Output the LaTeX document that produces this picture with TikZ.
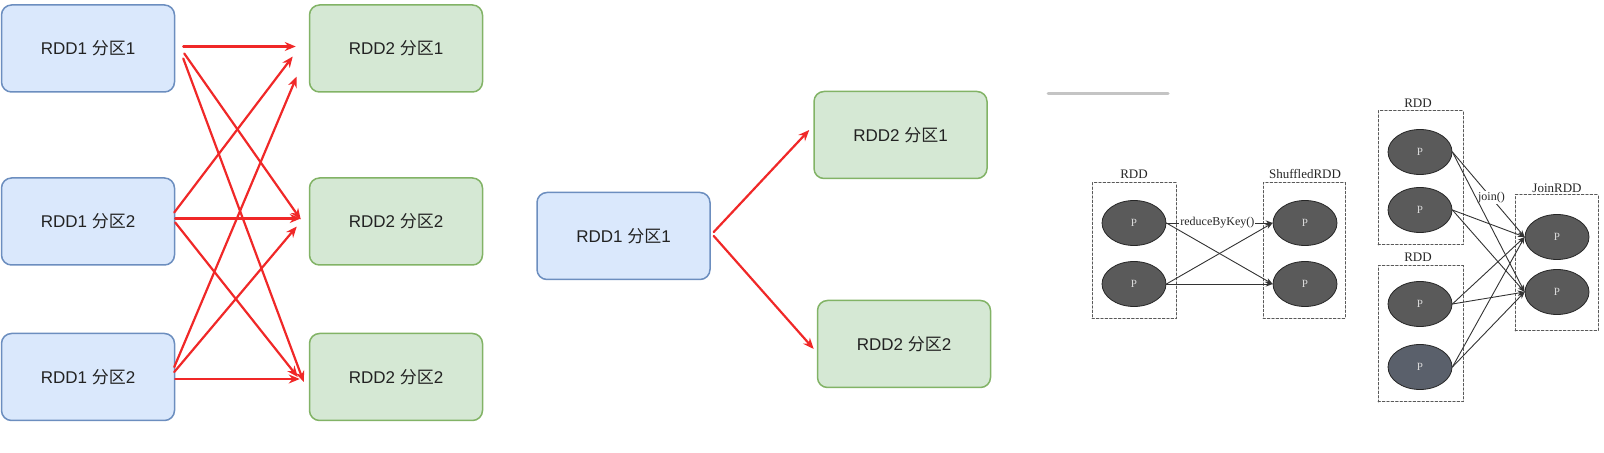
\documentclass[tikz,border=0pt]{standalone}
\usepackage{fontspec}
\setmainfont{Liberation Serif}
\newfontfamily\sansfont{Liberation Sans}
\newfontfamily\cjk{Noto Sans CJK SC}
\usetikzlibrary{arrows.meta,shapes.geometric}

\definecolor{blueback}{HTML}{DAE8FC}
\definecolor{blueline}{HTML}{6C8EBF}
\definecolor{greenback}{HTML}{D5E8D4}
\definecolor{greenline}{HTML}{82B366}
\definecolor{arrowred}{HTML}{F02828}
\definecolor{textgray}{HTML}{222222}
\definecolor{rulegray}{HTML}{C4C4C4}
\definecolor{pgray}{HTML}{5A5A5A}
\definecolor{pslate}{HTML}{5A606B}

\newcommand{\fenqu}{{\cjk 分区}}

\begin{document}
\begin{tikzpicture}
		[x=0.5pt,y=-0.5pt,line cap=round,
		%Styles
		rdd one/.style={rectangle,rounded corners=5pt,draw=blueline,fill=blueback,line width=0.75pt,minimum width=86.5pt,minimum height=43.5pt,font=\sansfont\fontsize{8.5}{10}\selectfont,text=textgray},
		rdd two/.style={rdd one,draw=greenline,fill=greenback},
		red arrow/.style={draw=arrowred,line width=1.1pt,-{Stealth[length=5.5pt,width=4.5pt]}},
		part box/.style={draw=black!65,line width=0.5pt,dash pattern=on 1.2pt off 1pt,minimum width=42pt,minimum height=68pt},
		part/.style={ellipse,draw=black!85,fill=pgray,line width=0.4pt,minimum width=32pt,minimum height=22.5pt,inner sep=0pt,font=\fontsize{5.5}{6}\selectfont,text=black!15},
		box title/.style={font=\fontsize{6.5}{8}\selectfont,text=black!85,inner sep=0pt},
		thin arrow/.style={draw=black!80,line width=0.45pt,-{Stealth[length=3.5pt,width=2.6pt]}},
		op label/.style={fill=white,inner sep=0.5pt,font=\fontsize{6}{7}\selectfont,text=black!85}
		]
		\useasboundingbox (0,0) rectangle (1604,453);
		
		%Wide dependency
		\node[rdd one] (L1) at (88,48.5) {RDD1 \fenqu1};
		\node[rdd one] (L2) at (88,221.5) {RDD1 \fenqu2};
		\node[rdd one] (L3) at (88,377) {RDD1 \fenqu2};
		\node[rdd two] (R1) at (396,48.5) {RDD2 \fenqu1};
		\node[rdd two] (R2) at (396,221.5) {RDD2 \fenqu2};
		\node[rdd two] (R3) at (396,377) {RDD2 \fenqu2};
		
		\draw[red arrow] ([shift={(8,-2)}]L1.east) -- ([shift={(-13,-2)}]R1.west);
		\draw[red arrow] ([shift={(9,5)}]L1.east) -- ([shift={(-8,-2)}]R2.west);
		\draw[red arrow] ([shift={(8,10)}]L1.east) -- ([shift={(-5,5)}]R3.west);
		\draw[red arrow] ([shift={(-1,-9)}]L2.east) -- ([shift={(-16,8)}]R1.west);
		\draw[red arrow] ([shift={(0,-3)}]L2.east) -- ([shift={(-8,-3)}]R2.west);
		\draw[red arrow] ([shift={(0,1)}]L2.east) -- ([shift={(-11,0)}]R3.west);
		\draw[red arrow] ([shift={(-1,-10)}]L3.east) -- ([shift={(-12,28)}]R1.west);
		\draw[red arrow] ([shift={(-1,-5)}]L3.east) -- ([shift={(-12,5)}]R2.west);
		\draw[red arrow] ([shift={(0,2)}]L3.east) -- ([shift={(-9,2)}]R3.west);
		
		%One to many
		\node[rdd one] (M1) at (623.5,236) {RDD1 \fenqu1};
		\node[rdd two] (M2) at (900.5,135) {RDD2 \fenqu1};
		\node[rdd two] (M3) at (904,344) {RDD2 \fenqu2};
		
		\draw[red arrow] ([shift={(3,-4)}]M1.east) -- ([shift={(-4,-5)}]M2.west);
		\draw[red arrow] ([shift={(3,0)}]M1.east) -- ([shift={(-3,5)}]M3.west);
		
		%Screenshot
		\draw[line width=1.5pt,draw=rulegray] (1048,94) -- (1168,94);
		
		\node[part box] (rdd box) at (1134,251) {};
		\node[box title] (rdd title) at (1134,174) {RDD};
		\node[part] (p1) at (1134,223) {P};
		\node[part] (p2) at (1134,284) {P};
		\node[part box,minimum width=41pt] (shuffled box) at (1304,250.5) {};
		\node[box title] (shuffled title) at (1305,174) {ShuffledRDD};
		\node[part] (s1) at (1305,223) {P};
		\node[part] (s2) at (1305,284) {P};
		
		\draw[thin arrow] (p1.east) -- node[op label,pos=0.48] {reduceByKey()} (s1.west);
		\draw[thin arrow] (p1.east) -- (s2.west);
		\draw[thin arrow] (p2.east) -- (s1.west);
		\draw[thin arrow] (p2.east) -- (s2.west);
		
		\node[part box,minimum width=42.5pt,minimum height=67pt] (upper box) at (1420.5,178) {};
		\node[box title] (upper title) at (1418,103) {RDD};
		\node[part] (a1) at (1420,152) {P};
		\node[part] (a2) at (1420,210) {P};
		\node[part box,minimum width=42.5pt] (lower box) at (1420.5,334) {};
		\node[box title] (lower title) at (1418,257) {RDD};
		\node[part] (b1) at (1420,304) {P};
		\node[part,fill=pslate] (b2) at (1420,367) {P};
		\node[part box,minimum width=41.5pt] (join box) at (1556.5,263) {};
		\node[box title] (join title) at (1557,188) {JoinRDD};
		\node[part] (j1) at (1557,237) {P};
		\node[part] (j2) at (1557,292) {P};
		
		\draw[thin arrow] (a1.east) -- node[op label,pos=0.54] {join()} (j1.west);
		\foreach \from/\to in {a1/j2,a2/j1,a2/j2,b1/j1,b1/j2,b2/j1,b2/j2}
			\draw[thin arrow] (\from.east) -- (\to.west);
	\end{tikzpicture}
\end{document}
